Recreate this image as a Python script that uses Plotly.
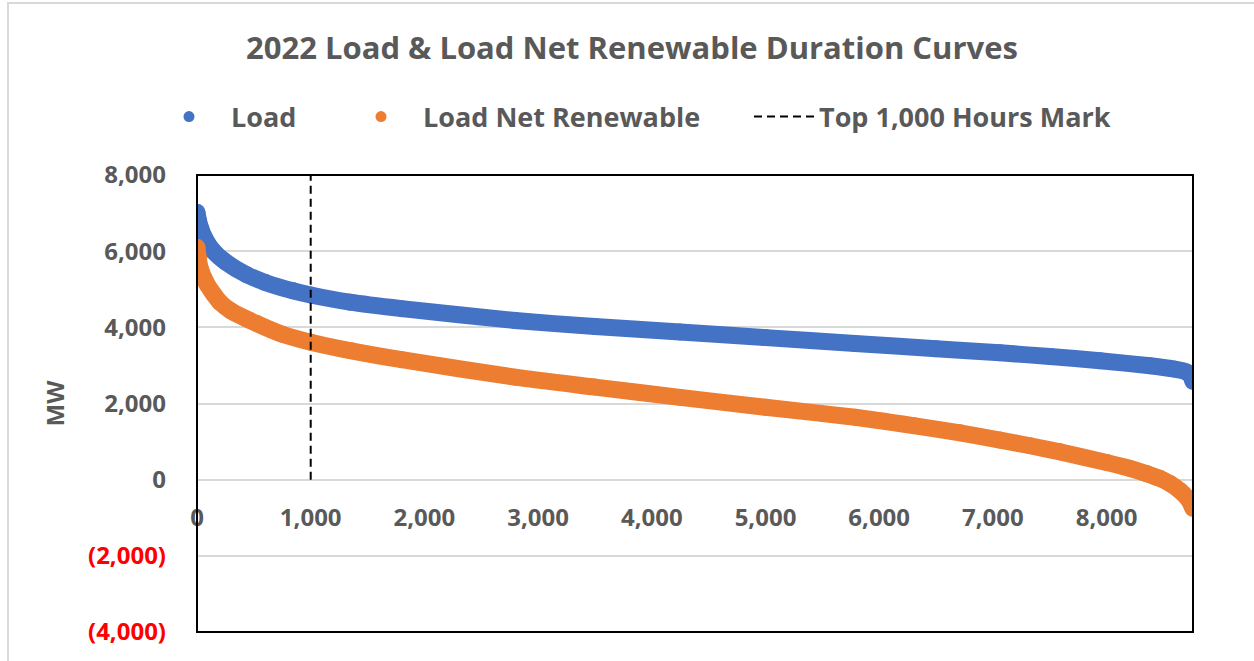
import plotly.graph_objects as go

# ---- data ----
load_hours = [0, 10, 30, 70, 144, 250, 437, 600, 843, 1000, 1346, 1800, 2797, 3500,
              4248, 5000, 5787, 6500, 7062, 7502, 7942, 8382, 8600, 8700, 8740, 8760]
load_mw = [7020, 6850, 6620, 6330, 6000, 5720, 5380, 5180, 4960, 4850, 4660, 4490, 4180, 4020,
           3880, 3730, 3575, 3440, 3330, 3235, 3125, 2990, 2900, 2830, 2730, 2580]

net_hours = [0, 10, 26, 85, 144, 202, 300, 525, 750, 1000, 1346, 1800, 2797, 3500,
             4248, 5000, 5787, 6300, 6711, 7062, 7326, 7590, 8000, 8200, 8350, 8470,
             8560, 8646, 8720, 8760]
net_mw = [6100, 5850, 5575, 5150, 4880, 4660, 4430, 4100, 3820, 3610, 3390, 3150, 2690, 2430,
          2160, 1900, 1640, 1420, 1230, 1040, 890, 730, 450, 300, 160, 30,
          -110, -290, -520, -760]

mark_hours = [1000, 1000]
mark_mw = [0, 8000]

y_ticks = [-4000, -2000, 0, 2000, 4000, 6000, 8000]
y_labels = ["(4,000)", "(2,000)", "0", "2,000", "4,000", "6,000", "8,000"]
x_ticks = [0, 1000, 2000, 3000, 4000, 5000, 6000, 7000, 8000]
x_labels = ["0", "1,000", "2,000", "3,000", "4,000", "5,000", "6,000", "7,000", "8,000"]

BLUE = "#4472C4"
ORANGE = "#ED7D31"
GREY = "#595959"
FONT = "Open Sans"

# plot-area pixel geometry (for paper-coordinate placement)
PL, PR, PT, PB = 197, 1193, 175, 632
PW, PH = PR - PL, PB - PT


def px_x(px):
    return (px - PL) / PW


def px_y(py):
    return (PB - py) / PH


fig = go.Figure()

# curves (thick bands like densely packed markers)
fig.add_trace(go.Scatter(x=load_hours, y=load_mw, mode="lines+markers", showlegend=False,
                         line=dict(color=BLUE, width=17, shape="spline", smoothing=0.6),
                         marker=dict(color=BLUE, size=17), hoverinfo="skip"))
fig.add_trace(go.Scatter(x=net_hours, y=net_mw, mode="lines+markers", showlegend=False,
                         line=dict(color=ORANGE, width=17, shape="spline", smoothing=0.6),
                         marker=dict(color=ORANGE, size=17), hoverinfo="skip"))

# legend entries
fig.add_trace(go.Scatter(x=[None], y=[None], mode="markers", name="Load", legend="legend",
                         marker=dict(color=BLUE, size=11)))
fig.add_trace(go.Scatter(x=[None], y=[None], mode="markers", name="Load Net Renewable",
                         legend="legend2", marker=dict(color=ORANGE, size=11)))
fig.add_trace(go.Scatter(x=mark_hours, y=mark_mw, mode="lines", name="Top 1,000 Hours Mark",
                         legend="legend3",
                         line=dict(color="black", width=2, dash="8px,5px"), hoverinfo="skip"))

ytext = [
    (f'<span style="color:#FF0000">{t}</span>' if v < 0 else t)
    for v, t in zip(y_ticks, y_labels)
]

tick_font = dict(size=24, family=FONT, color=GREY, weight="bold")
leg_font = dict(size=27, family=FONT, color=GREY, weight="bold")
leg_common = dict(orientation="h", xanchor="left", yanchor="middle", y=px_y(117),
                  font=leg_font, bgcolor="rgba(0,0,0,0)", borderwidth=0)

fig.update_layout(
    width=1254, height=661,
    margin=dict(l=PL, r=1254 - PR, t=PT, b=661 - PB),
    paper_bgcolor="white", plot_bgcolor="white",
    font=dict(family=FONT, color=GREY, size=22, weight="bold"),
    title=dict(text="2022 Load & Load Net Renewable Duration Curves",
               x=632 / 1254, xref="container", xanchor="center",
               y=1 - 48 / 661, yref="container", yanchor="middle",
               font=dict(size=31, family=FONT, color=GREY, weight="bold")),
    legend=dict(x=px_x(147), itemwidth=74, **leg_common),
    legend2=dict(x=px_x(339), itemwidth=74, **leg_common),
    legend3=dict(x=px_x(749), itemwidth=60, **leg_common),
    xaxis=dict(range=[0, 8760], tickvals=x_ticks, ticktext=x_labels, showgrid=False,
               zeroline=False, showline=False, ticks="", anchor="free", position=1 / 3,
               ticklabelstandoff=21, tickfont=tick_font),
    yaxis=dict(range=[-4000, 8000], tickvals=y_ticks, ticktext=ytext, showgrid=True,
               gridcolor="#D9D9D9", gridwidth=2, zeroline=False, showline=False, ticks="",
               ticklabelstandoff=30, tickfont=tick_font,
               title=dict(text="MW", standoff=16,
                          font=dict(size=24, family=FONT, color=GREY, weight="bold"))),
    shapes=[
        dict(type="rect", xref="paper", yref="paper", x0=0, x1=1, y0=0, y1=1,
             line=dict(color="black", width=2), layer="above"),
        dict(type="rect", xref="paper", yref="paper", x0=px_x(8), x1=1.3,
             y0=-0.3, y1=px_y(3), line=dict(color="#D9D9D9", width=2), layer="below"),
    ],
)

fig.write_html("out.html", config={"displayModeBar": False},
               post_script="document.body.style.margin='0';")
